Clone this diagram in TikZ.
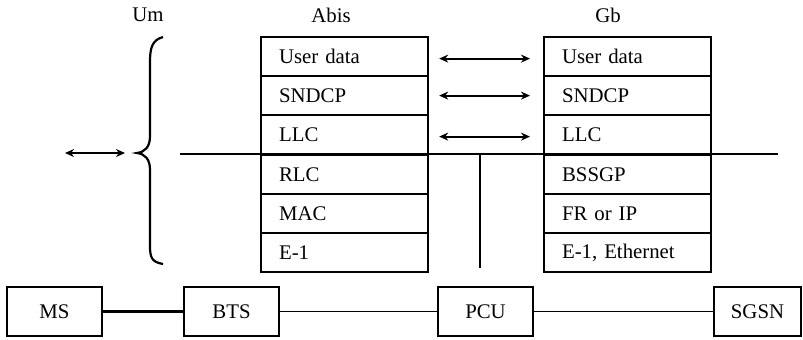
\documentclass[tikz,border=0pt]{standalone}
\usepackage{fontspec}
\setmainfont{Liberation Serif}
\usetikzlibrary{arrows.meta}
\begin{document}
\begin{tikzpicture}[x=0.5pt,y=-0.5pt,
  font=\fontsize{10.4pt}{12pt}\selectfont,
  row/.style={draw, line width=1.1pt, minimum width=83.5pt, minimum height=19.5pt,
    text width=65.5pt, inner xsep=9pt, inner ysep=0pt, align=left, anchor=north west},
  unit/.style={draw, line width=1.1pt, minimum width=47.5pt, minimum height=24.5pt, inner sep=0pt},
  dbl/.style={line width=1pt, {Stealth[length=4.5pt,width=4pt]}-{Stealth[length=4.5pt,width=4pt]}},
  lbl/.style={inner sep=0pt}]
\useasboundingbox (0,0) rectangle (803,339);
% labels
\node[lbl] (um) at (148,15) {Um};
\node[lbl] (abis) at (331,15) {Abis};
\node[lbl] (gb) at (608,15) {Gb};
% Abis stack
\node[row] (a1) at (260,36) {User data};
\node[row] (a2) at (260,75) {SNDCP};
\node[row] (a3) at (260,114) {LLC};
\node[row] (a4) at (260,154) {RLC};
\node[row] (a5) at (260,193) {MAC};
\node[row] (a6) at (260,232) {E-1};
% Gb stack
\node[row] (g1) at (543,36) {User data};
\node[row] (g2) at (543,75) {SNDCP};
\node[row] (g3) at (543,114) {LLC};
\node[row] (g4) at (543,154) {BSSGP};
\node[row] (g5) at (543,193) {FR or IP};
\node[row] (g6) at (543,232) {E-1, Ethernet};
% peer arrows
\draw[dbl] ([xshift=5pt,yshift=-1pt]a1.east) -- ([xshift=-6.5pt,yshift=-1pt]g1.west);
\draw[dbl] ([xshift=5pt]a2.east) -- ([xshift=-6.5pt]g2.west);
\draw[dbl] ([xshift=5pt,yshift=-1pt]a3.east) -- ([xshift=-6.5pt,yshift=-1pt]g3.west);
% long horizontal line and vertical line
\coordinate (hl) at (180,154);
\coordinate (hr) at (778,154);
\draw[line width=1.1pt] (hl) -- (hr);
\coordinate (vt) at (480,154);
\coordinate (vb) at (480,268);
\draw[line width=1.3pt] (vt) -- (vb);
% brace
\draw[line width=1.1pt] (163,37) .. controls (152,40) and (150,48) .. (150,62)
  -- (150,136) .. controls (150,147) and (145,152) .. (137,153)
  .. controls (145,154) and (150,159) .. (150,170)
  -- (150,246) .. controls (150,258) and (152,262) .. (163,264);
% left arrow
\coordinate (la) at (65,153);
\coordinate (lb) at (125,153);
\draw[dbl] (la) -- (lb);
% bottom units
\node[unit] (ms) at (54.5,311.5) {MS};
\node[unit] (bts) at (231.5,311.5) {BTS};
\node[unit] (pcu) at (485.5,311.5) {PCU};
\node[unit, minimum width=43.5pt] (sgsn) at (757.5,311.5) {SGSN};
\draw[line width=1.4pt] (ms) -- (bts);
\draw[line width=0.85pt] (bts) -- (pcu);
\draw[line width=0.85pt] (pcu) -- (sgsn);
\end{tikzpicture}
\end{document}
